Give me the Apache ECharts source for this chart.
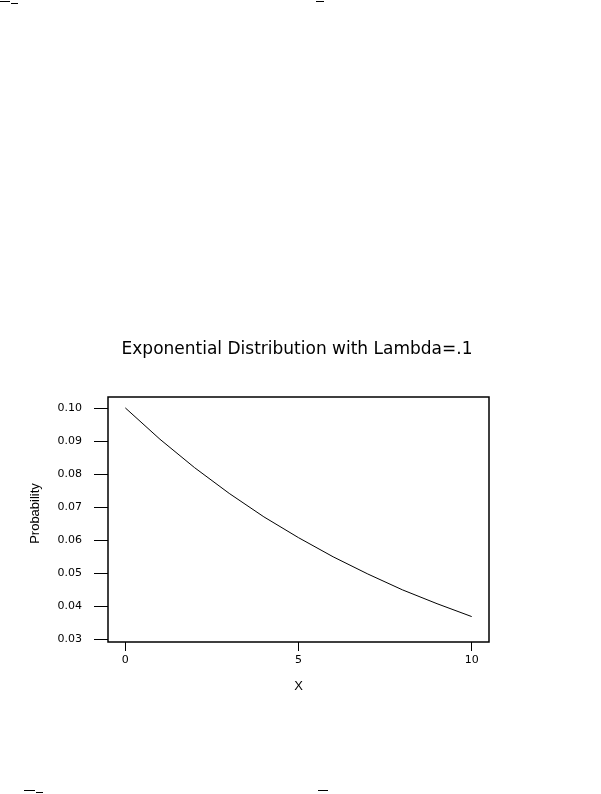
<!DOCTYPE html>
<html>
<head>
<meta charset="utf-8">
<script src="https://cdn.jsdelivr.net/npm/echarts@6/dist/echarts.min.js"></script>
<style>
html,body{margin:0;padding:0;background:#fff;}
#c{width:601px;height:794px;}
</style>
</head>
<body>
<div id="c"></div>
<script>
var xValues = [0, 1, 2, 3, 4, 5, 6, 7, 8, 9, 10];
var probValues = [0.1000, 0.0905, 0.0819, 0.0741, 0.0670, 0.0607, 0.0549, 0.0497, 0.0449, 0.0407, 0.0368];
var xTicks = [0, 5, 10];
var yTicks = [0.03, 0.04, 0.05, 0.06, 0.07, 0.08, 0.09, 0.10];
var titleText = 'Exponential Distribution with Lambda=.1';

var font = '"Liberation Sans", Arial, sans-serif';
var tickFont = '"DejaVu Sans", sans-serif';
var chart = echarts.init(document.getElementById('c'), null, {renderer: 'canvas'});
chart.setOption({
  animation: false,
  backgroundColor: '#fff',
  title: {
    text: titleText,
    left: 292,
    textAlign: 'center',
    top: 336,
    textStyle: {fontFamily: '"DejaVu Sans", sans-serif', fontSize: 17, fontWeight: 'normal', color: '#000'}
  },
  grid: {
    left: 108, top: 397, right: 112, bottom: 152,
    show: true, borderColor: '#000', borderWidth: 1.5, backgroundColor: '#fff'
  },
  xAxis: {
    type: 'value', min: -0.5, max: 10.5,
    name: 'X', nameLocation: 'middle', nameGap: 38,
    nameTextStyle: {fontFamily: font, fontSize: 13, color: '#000'},
    axisLine: {show: false, onZero: false},
    axisTick: {show: true, inside: false, length: 9, customValues: xTicks, lineStyle: {color: '#000', width: 1}},
    axisLabel: {customValues: xTicks, margin: 13, fontFamily: tickFont, fontSize: 11, color: '#000'},
    splitLine: {show: false}
  },
  yAxis: {
    type: 'value', min: 0.0291, max: 0.1033,
    name: 'Probability', nameLocation: 'middle', nameGap: 66,
    nameTextStyle: {fontFamily: font, fontSize: 13, color: '#000', padding: [0, 0, 0, 12]},
    axisLine: {show: false, onZero: false},
    axisTick: {show: true, inside: false, length: 14, customValues: yTicks, lineStyle: {color: '#000', width: 1}},
    axisLabel: {customValues: yTicks, margin: 26, fontFamily: tickFont, fontSize: 11, color: '#000',
      formatter: function (v) { return v.toFixed(2); }},
    splitLine: {show: false}
  },
  series: [{
    type: 'line',
    data: xValues.map(function (x, i) { return [x, probValues[i]]; }),
    showSymbol: false,
    smooth: false,
    lineStyle: {color: '#000', width: 1}
  }],
  graphic: [
    {type: 'line', shape: {x1: 0, y1: 1.5, x2: 10, y2: 1.5}, style: {stroke: '#000', lineWidth: 1}},
    {type: 'line', shape: {x1: 11, y1: 3.5, x2: 18, y2: 3.5}, style: {stroke: '#000', lineWidth: 1}},
    {type: 'line', shape: {x1: 316, y1: 1.5, x2: 324, y2: 1.5}, style: {stroke: '#000', lineWidth: 1}},
    {type: 'line', shape: {x1: 24, y1: 790.5, x2: 35, y2: 790.5}, style: {stroke: '#000', lineWidth: 1}},
    {type: 'line', shape: {x1: 36, y1: 792.5, x2: 43, y2: 792.5}, style: {stroke: '#000', lineWidth: 1}},
    {type: 'line', shape: {x1: 318, y1: 790.5, x2: 328, y2: 790.5}, style: {stroke: '#000', lineWidth: 1}}
  ]
});
</script>
</body>
</html>
